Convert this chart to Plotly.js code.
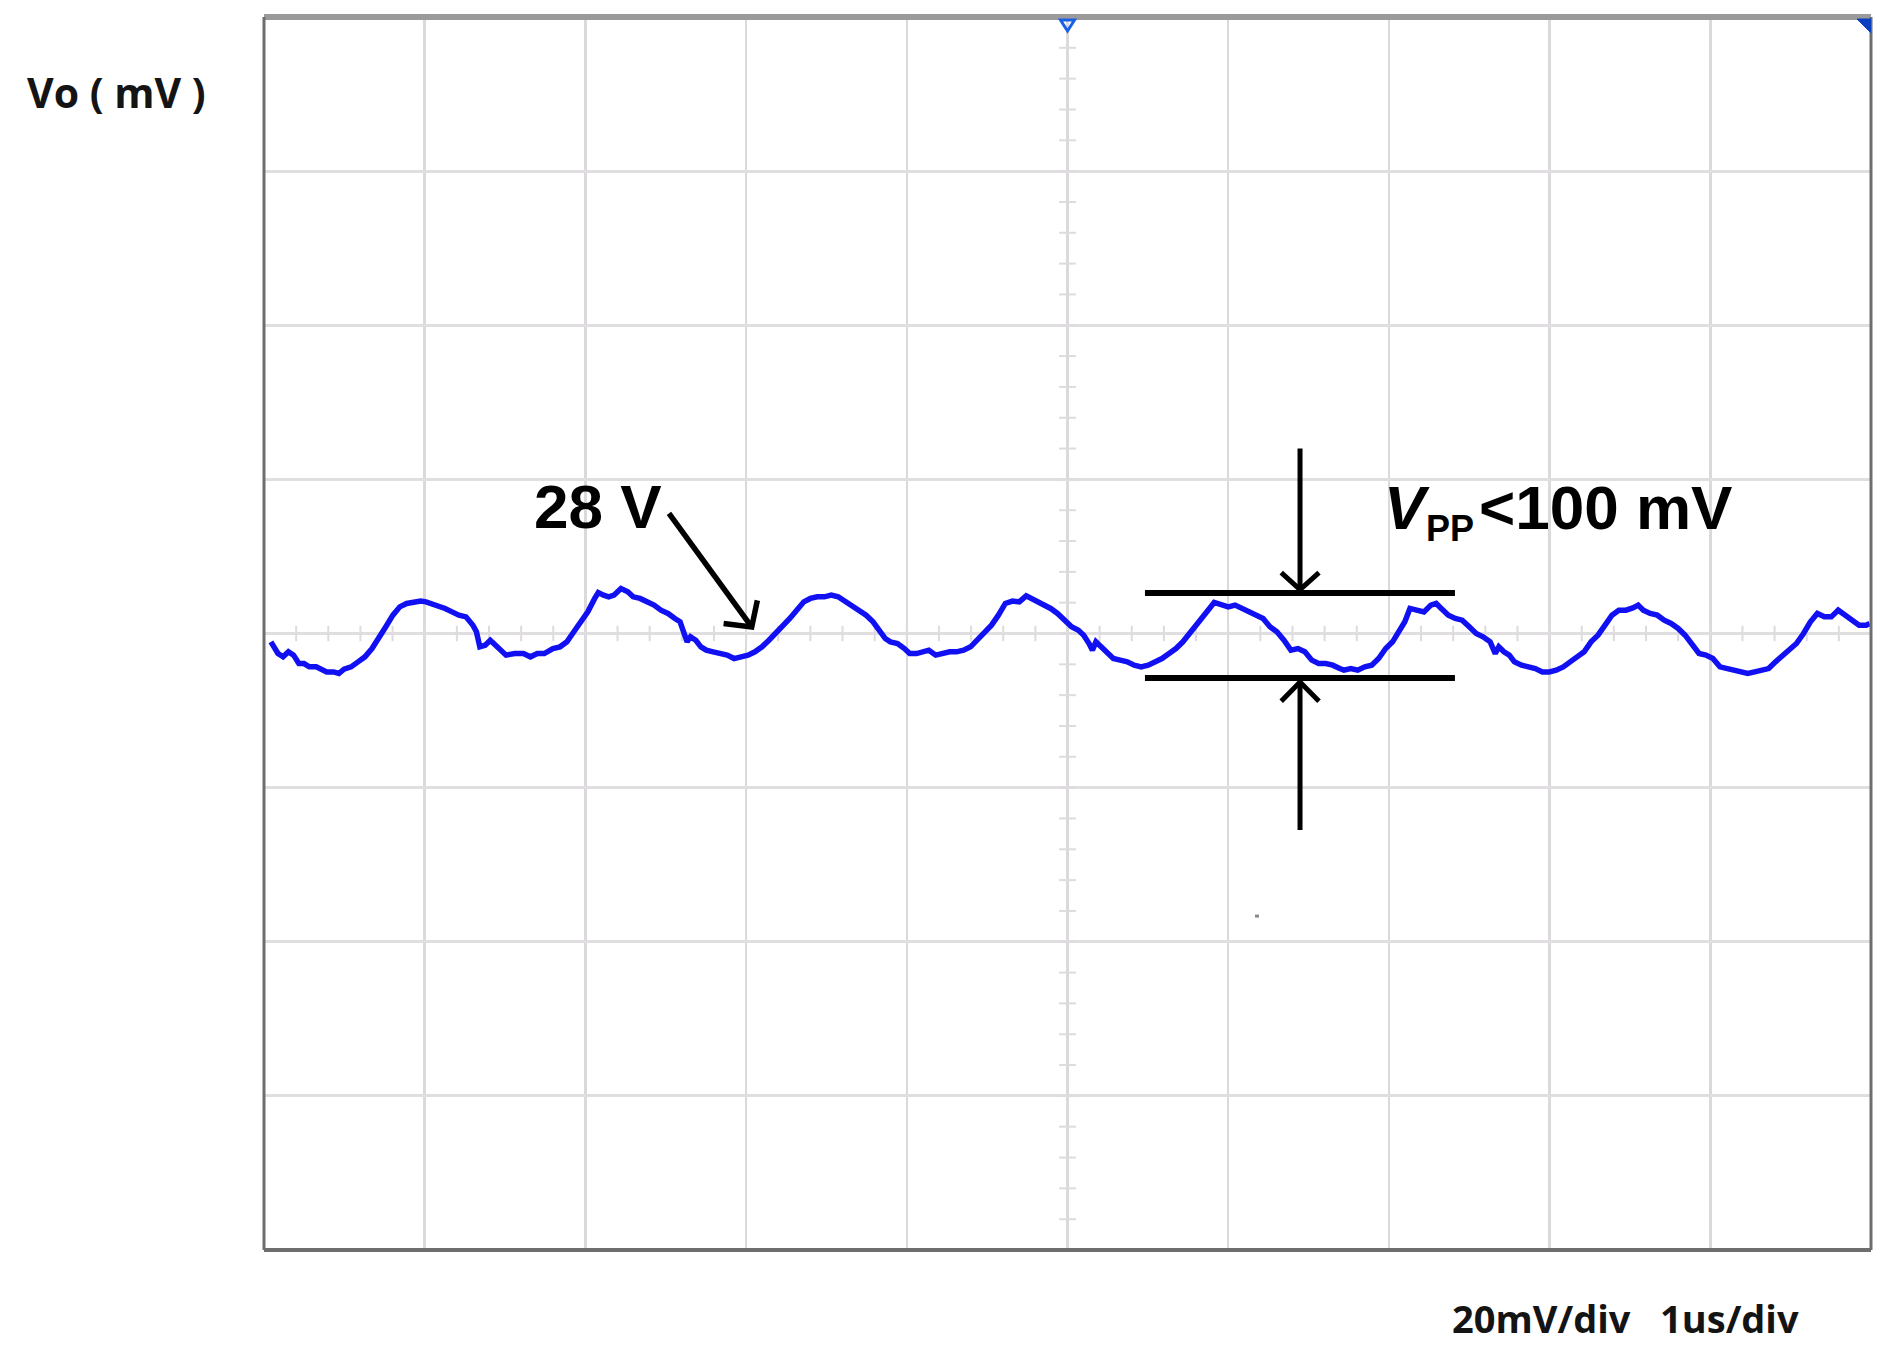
<!DOCTYPE html>
<html>
<head>
<meta charset="utf-8">
<script src="https://cdn.plot.ly/plotly-3.0.1.min.js"></script>
<style>
  html, body { margin: 0; padding: 0; background: #ffffff; }
  #chart { width: 1899px; height: 1361px; }
</style>
</head>
<body>
<div id="chart"></div>
<script>
// ---- Data (time in µs, ripple in mV) ----
const timeUs = [
  0.043,0.065,0.087,0.119,0.152,0.184,0.217,0.249,0.282,0.325,0.358,0.390,0.433,0.466,0.498,0.542,0.585,0.628,0.672,0.715,
  0.758,0.802,0.845,0.888,0.932,0.975,1.008,1.040,1.083,1.127,1.170,1.213,1.257,1.300,1.322,1.343,1.376,1.408,1.441,1.473,
  1.506,1.560,1.614,1.658,1.701,1.744,1.798,1.842,1.885,1.928,1.972,2.015,2.058,2.080,2.113,2.145,2.178,2.221,2.264,2.297,
  2.340,2.384,2.427,2.470,2.514,2.557,2.589,2.611,2.633,2.654,2.687,2.719,2.752,2.795,2.839,2.882,2.925,2.969,3.012,3.055,
  3.099,3.142,3.185,3.229,3.272,3.315,3.359,3.400,3.443,3.487,3.530,3.573,3.617,3.660,3.703,3.747,3.790,3.833,3.866,3.898,
  3.942,3.985,4.018,4.061,4.104,4.137,4.180,4.223,4.267,4.310,4.353,4.397,4.440,4.483,4.527,4.570,4.613,4.657,4.700,4.743,
  4.776,4.808,4.852,4.895,4.938,4.982,5.025,5.068,5.101,5.134,5.155,5.177,5.209,5.242,5.285,5.328,5.372,5.415,5.458,5.502,
  5.545,5.588,5.632,5.675,5.718,5.762,5.805,5.848,5.892,5.913,5.957,6.000,6.043,6.087,6.130,6.173,6.217,6.260,6.303,6.347,
  6.390,6.434,6.477,6.520,6.563,6.607,6.650,6.694,6.720,6.763,6.806,6.850,6.893,6.936,6.980,7.023,7.066,7.099,7.131,7.175,
  7.218,7.261,7.294,7.326,7.370,7.413,7.456,7.500,7.543,7.586,7.630,7.662,7.684,7.716,7.749,7.781,7.825,7.868,7.911,7.955,
  7.998,8.041,8.085,8.128,8.171,8.215,8.258,8.301,8.345,8.388,8.431,8.475,8.518,8.551,8.583,8.626,8.670,8.713,8.756,8.800,
  8.843,8.886,8.930,8.973,9.016,9.060,9.103,9.146,9.190,9.233,9.276,9.320,9.363,9.406,9.450,9.493,9.536,9.580,9.623,9.666,
  9.710,9.753,9.796,9.840,9.883,9.926,9.970,9.992
];
const voltageMv = [
  -1.08,-1.73,-2.60,-3.03,-2.38,-2.81,-3.90,-3.90,-4.33,-4.33,-4.76,-4.98,-4.98,-5.19,-4.63,-4.33,-3.68,-3.03,-1.95,-0.65,
  0.87,2.38,3.46,3.90,4.03,4.20,4.11,3.90,3.46,3.25,2.81,2.38,2.16,1.08,0.22,-1.73,-1.52,-0.87,-1.52,-2.16,
  -2.81,-2.60,-2.60,-3.03,-2.60,-2.60,-1.95,-1.73,-1.08,0.22,1.52,2.81,4.55,5.32,4.98,4.76,4.98,5.84,5.41,4.76,
  4.55,4.11,3.68,3.03,2.60,1.95,1.52,0.22,-1.08,-0.43,-0.87,-1.73,-2.16,-2.38,-2.60,-2.81,-3.25,-3.03,-2.81,-2.38,
  -1.73,-0.87,0.00,0.87,1.95,3.03,4.11,4.55,4.76,4.76,4.98,4.76,4.11,3.46,3.03,2.38,1.52,0.43,-0.65,-1.08,
  -1.30,-1.95,-2.60,-2.60,-2.38,-2.16,-2.81,-2.60,-2.38,-2.38,-2.16,-1.73,-0.87,0.00,1.08,2.38,3.90,4.20,4.11,4.89,
  4.55,4.11,3.68,3.25,2.60,1.73,0.87,0.43,-0.22,-1.30,-2.16,-1.08,-1.73,-2.38,-3.25,-3.46,-3.68,-4.11,-4.33,-4.11,
  -3.68,-3.25,-2.60,-1.95,-1.08,0.00,1.08,2.38,3.46,4.03,3.68,3.46,3.68,3.25,2.81,2.38,1.95,0.87,0.22,-0.87,
  -2.16,-1.95,-2.38,-3.46,-3.90,-3.90,-4.11,-4.55,-4.76,-4.55,-4.76,-4.33,-4.11,-3.25,-1.95,-1.08,0.22,1.52,3.25,3.03,
  2.81,3.68,3.90,3.25,2.38,1.95,1.73,0.87,0.00,-0.43,-1.08,-2.60,-1.73,-2.38,-2.81,-3.68,-4.11,-4.33,-4.55,-4.98,
  -4.98,-4.76,-4.33,-3.68,-3.03,-2.38,-1.08,-0.22,1.08,2.38,3.03,3.03,3.33,3.68,3.03,2.60,2.38,1.73,1.30,0.65,
  -0.22,-1.52,-2.60,-2.81,-3.25,-4.33,-4.55,-4.76,-4.98,-5.19,-4.98,-4.76,-4.55,-3.68,-2.81,-2.16,-1.30,0.00,1.52,2.60,
  2.16,2.16,3.03,2.38,1.73,1.08,1.08,1.30
];

// Screen settings (divisions): 10 x 1 µs, 8 x 20 mV
const xDivisions = [0,1,2,3,4,5,6,7,8,9,10];
const yDivisions = [-80,-60,-40,-20,0,20,40,60,80];
const labelY = 'Vo ( mV )';
const labelScale = '20mV/div\u00a0\u00a0 1us/div';
const labelLevel = '28 V';
const labelRippleV = '<i>V</i>';
const labelRippleSub = 'PP';
const labelRippleRest = '&lt;100 mV';

// Graticule sub-division ticks on the centre cross (5 per division)
const subX = []; for (let i = 0; i <= 50; i++) subX.push(i * 0.2);
const subY = []; for (let i = 0; i <= 40; i++) subY.push(-80 + i * 4);

const traces = [
  { x: subX, y: subX.map(() => 0), mode: 'markers', hoverinfo: 'skip',
    marker: { symbol: 'line-ns', size: 11, line: { width: 2, color: '#dedbde' } } },
  { x: subY.map(() => 5), y: subY, mode: 'markers', hoverinfo: 'skip',
    marker: { symbol: 'line-ew', size: 12, line: { width: 2, color: '#dedbde' } } },
  { x: timeUs, y: voltageMv, mode: 'lines', hoverinfo: 'skip',
    line: { color: '#1010f2', width: 5.5, shape: 'linear' } }
];

const blk = '#000000';
const shapes = [
  // frame
  { type: 'line', xref: 'paper', yref: 'paper', x0: 0, x1: 1, y0: 1, y1: 1, line: { color: '#9a9a9a', width: 6 } },
  { type: 'line', xref: 'paper', yref: 'paper', x0: 0, x1: 0, y0: 0, y1: 1, line: { color: '#6e6e6e', width: 3 } },
  { type: 'line', xref: 'paper', yref: 'paper', x0: 1, x1: 1, y0: 0, y1: 1, line: { color: '#6e6e6e', width: 3 } },
  { type: 'line', xref: 'paper', yref: 'paper', x0: 0, x1: 1, y0: 0, y1: 0, line: { color: '#6e6e6e', width: 4 } },
  // trigger markers
  { type: 'path', xref: 'x', yref: 'y', xsizemode: 'pixel', ysizemode: 'pixel', xanchor: 5, yanchor: 80,
    path: 'M -7 -3 L 7 -3 L 0 -14 Z', line: { color: '#1a5fe8', width: 3 }, fillcolor: 'rgba(0,0,0,0)' },
  { type: 'path', xref: 'x', yref: 'y', xsizemode: 'pixel', ysizemode: 'pixel', xanchor: 10, yanchor: 80,
    path: 'M -14 -2 L 0 -2 L 0 -16 Z', line: { color: '#0a3fc0', width: 1 }, fillcolor: '#0a3fc0' },
  { type: 'rect', xref: 'x', yref: 'y', xsizemode: 'pixel', ysizemode: 'pixel', xanchor: 6.179, yanchor: -36.67,
    x0: -2, x1: 2, y0: -1.5, y1: 1.5, line: { width: 0 }, fillcolor: '#8a8a8a' },
  // "28 V" arrow
  { type: 'line', xref: 'x', yref: 'y', x0: 2.52, y0: 15.6, x1: 3.03, y1: 1.0, line: { color: blk, width: 5.5 } },
  { type: 'path', xref: 'x', yref: 'y', path: 'M 2.86 1.3 L 3.035 0.85 L 3.07 4.3', line: { color: blk, width: 5.5 } },
  // ripple markers
  { type: 'line', xref: 'x', yref: 'y', x0: 5.482, x1: 7.411, y0: 5.24, y1: 5.24, line: { color: blk, width: 6 } },
  { type: 'line', xref: 'x', yref: 'y', x0: 5.482, x1: 7.411, y0: -5.79, y1: -5.79, line: { color: blk, width: 6 } },
  { type: 'line', xref: 'x', yref: 'y', x0: 6.447, x1: 6.447, y0: 24.0, y1: 5.8, line: { color: blk, width: 5 } },
  { type: 'path', xref: 'x', yref: 'y', path: 'M 6.33 7.9 L 6.447 5.7 L 6.565 7.9', line: { color: blk, width: 5 } },
  { type: 'line', xref: 'x', yref: 'y', x0: 6.447, x1: 6.447, y0: -25.5, y1: -6.4, line: { color: blk, width: 5 } },
  { type: 'path', xref: 'x', yref: 'y', path: 'M 6.33 -8.8 L 6.447 -6.3 L 6.565 -8.8', line: { color: blk, width: 5 } }
];

const bigFont = { family: 'Liberation Sans', size: 62, weight: 'bold', color: '#000000' };
const annotations = [
  { text: labelY, xref: 'paper', yref: 'paper', x: -0.149, y: 0.939, xanchor: 'left', yanchor: 'middle',
    showarrow: false, font: { family: 'Open Sans', size: 41, weight: 'bold', color: '#141414' } },
  { text: labelScale, xref: 'paper', yref: 'paper', x: 0.738, y: -0.055, xanchor: 'left', yanchor: 'middle',
    showarrow: false, font: { family: 'Open Sans', size: 38, weight: 'bold', color: '#141414' } },
  { text: labelLevel, xref: 'x', yref: 'y', x: 1.67, y: 16.5, xanchor: 'left', yanchor: 'middle',
    showarrow: false, font: bigFont },
  { text: labelRippleV, xref: 'x', yref: 'y', x: 6.96, y: 16.3, xanchor: 'left', yanchor: 'middle',
    showarrow: false, font: bigFont },
  { text: labelRippleSub, xref: 'x', yref: 'y', x: 7.22, y: 13.6, xanchor: 'left', yanchor: 'middle',
    showarrow: false, font: { family: 'Liberation Sans', size: 36, weight: 'bold', color: '#000000' } },
  { text: labelRippleRest, xref: 'x', yref: 'y', x: 7.55, y: 16.3, xanchor: 'left', yanchor: 'middle',
    showarrow: false, font: bigFont }
];

const layout = {
  width: 1899, height: 1361,
  margin: { l: 264, r: 28, t: 17, b: 111 },
  paper_bgcolor: '#ffffff', plot_bgcolor: '#ffffff',
  showlegend: false,
  xaxis: { range: [0, 10], tickvals: xDivisions, showticklabels: false, ticks: '',
           showgrid: true, gridcolor: '#dcd9dc', gridwidth: 2.5, zeroline: false, showline: false, fixedrange: true },
  yaxis: { range: [-80, 80], tickvals: yDivisions, showticklabels: false, ticks: '',
           showgrid: true, gridcolor: '#e0dee0', gridwidth: 3, zeroline: false, showline: false, fixedrange: true },
  shapes: shapes,
  annotations: annotations
};

Plotly.newPlot('chart', traces, layout, { displayModeBar: false, staticPlot: true });
</script>
</body>
</html>
